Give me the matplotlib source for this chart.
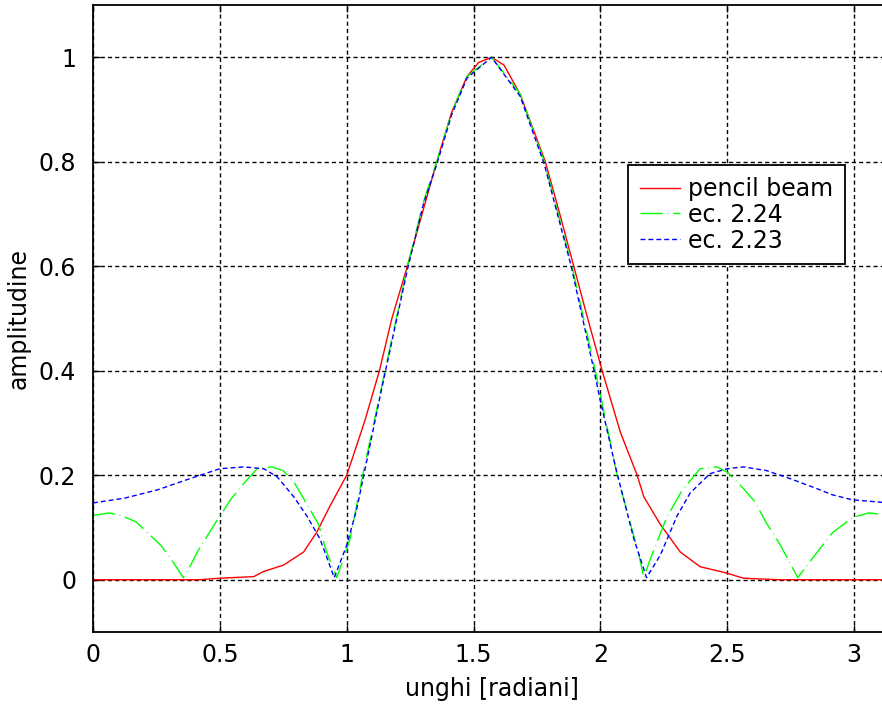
import numpy as np
import matplotlib
matplotlib.use("Agg")
import matplotlib.pyplot as plt

x_pencil = [0, 0.42, 0.5, 0.634, 0.673, 0.751, 0.83, 0.882, 0.934, 1.0, 1.04, 1.072,
            1.129, 1.178, 1.239, 1.30, 1.355, 1.414, 1.474, 1.52, 1.571, 1.62, 1.684,
            1.783, 1.84, 1.895, 1.95, 2.007, 2.079, 2.145, 2.171, 2.236, 2.315, 2.393,
            2.5, 2.563, 2.706, 3.1416]
y_pencil = [0, 0, 0.003, 0.006, 0.016, 0.028, 0.053, 0.091, 0.141, 0.2, 0.258, 0.305,
            0.4, 0.5, 0.6, 0.705, 0.8, 0.895, 0.963, 0.99, 1.0, 0.985, 0.929,
            0.8, 0.70, 0.6, 0.5, 0.4, 0.282, 0.2, 0.159, 0.106, 0.053, 0.025,
            0.0125, 0.003, 0, 0]

x_ec224 = [0, 0.064, 0.116, 0.169, 0.228, 0.267, 0.306, 0.356, 0.385, 0.411, 0.483,
           0.542, 0.594, 0.647, 0.705, 0.749, 0.791, 0.856, 0.889, 0.921, 0.961,
           0.987, 1.013, 1.063, 1.129, 1.151, 1.24, 1.303, 1.355, 1.414, 1.474,
           1.571, 1.684, 1.779, 1.888, 1.98, 2.066, 2.151, 2.171, 2.197, 2.262,
           2.321, 2.393, 2.458, 2.5, 2.563, 2.608, 2.654, 2.706, 2.752, 2.778,
           2.85, 2.915, 2.993, 3.059, 3.1416]
y_ec224 = [0.123, 0.128, 0.122, 0.111, 0.084, 0.066, 0.041, 0.004, 0.028, 0.053, 0.109,
           0.153, 0.184, 0.2125, 0.216, 0.209, 0.188, 0.134, 0.106, 0.053, 0.004,
           0.04, 0.078, 0.2, 0.35, 0.4, 0.6, 0.724, 0.8, 0.895, 0.963,
           1.0, 0.93, 0.8, 0.6, 0.4, 0.2, 0.05, 0.004, 0.04, 0.12,
           0.17, 0.2125, 0.216, 0.206, 0.175, 0.15, 0.109, 0.069, 0.028, 0.004,
           0.05, 0.09, 0.119, 0.128, 0.123]

x_ec223 = [0, 0.123, 0.254, 0.385, 0.5, 0.594, 0.673, 0.726, 0.791, 0.843, 0.895,
           0.951, 1.0, 1.039, 1.063, 1.129, 1.151, 1.24, 1.303, 1.355, 1.414, 1.474,
           1.571, 1.684, 1.779, 1.885, 1.975, 2.001, 2.06, 2.132, 2.182, 2.236,
           2.302, 2.354, 2.432, 2.5, 2.563, 2.654, 2.745, 2.85, 2.915, 2.993, 3.1416]
y_ec223 = [0.147, 0.156, 0.172, 0.194, 0.2125, 0.216, 0.2125, 0.197, 0.159, 0.122, 0.078,
           0.004, 0.066, 0.134, 0.19, 0.345, 0.395, 0.595, 0.72, 0.795, 0.89, 0.96,
           1.0, 0.925, 0.795, 0.6, 0.4, 0.34, 0.215, 0.078, 0.004, 0.047,
           0.122, 0.166, 0.203, 0.2125, 0.216, 0.209, 0.194, 0.175, 0.1625, 0.153, 0.147]

xticks = [0, 0.5, 1, 1.5, 2, 2.5, 3]
xtick_labels = ['0', '0.5', '1', '1.5', '2', '2.5', '3']
yticks = [0, 0.2, 0.4, 0.6, 0.8, 1]
ytick_labels = ['0', '0.2', '0.4', '0.6', '0.8', '1']

plt.rcParams['font.family'] = ['DejaVu Sans']
plt.rcParams['font.size'] = 17

fig = plt.figure(figsize=(8.82, 7.09), dpi=100)
# l'asse arriva fino a pi, oltre il bordo destro della figura
ax = fig.add_axes([93 / 882, 77 / 709, 797 / 882, 627 / 709])

ax.plot(x_pencil, y_pencil, color='#ff0000', lw=1.0, label='pencil beam')
ax.plot(x_ec224, y_ec224, color='#00ff00', lw=1.0, dashes=(16, 3.5, 0.5, 3.5),
        label='ec. 2.24')
ax.plot(x_ec223, y_ec223, color='#0000ff', lw=1.0, dashes=(3.5, 2.2),
        label='ec. 2.23')

ax.set_xlim(0, np.pi)
ax.set_ylim(-0.1, 1.1)
ax.set_xticks(xticks)
ax.set_xticklabels(xtick_labels)
ax.set_yticks(yticks)
ax.set_yticklabels(ytick_labels)

ax.grid(True, color='black', linestyle=(0, (3, 2.2)), linewidth=1.0)
ax.tick_params(direction='in', length=5, width=1, top=True, right=True,
               colors='black')
ax.tick_params(axis='x', pad=8)
ax.tick_params(axis='y', pad=12)
for sp in ax.spines.values():
    sp.set_linewidth(1.3)
    sp.set_color('black')

ax.set_xlabel('unghi [radiani]', labelpad=7)
ax.set_ylabel('amplitudine', labelpad=6)

leg = ax.legend(loc='upper right', bbox_to_anchor=(845 / 882, 1 - 165 / 709),
                bbox_transform=fig.transFigure, fancybox=False, framealpha=1,
                edgecolor='black', borderpad=0.5, labelspacing=0.08,
                handlelength=1.7, handletextpad=0.35, borderaxespad=0)
leg.get_frame().set_linewidth(1.3)

fig.savefig('out.png', dpi=100)
